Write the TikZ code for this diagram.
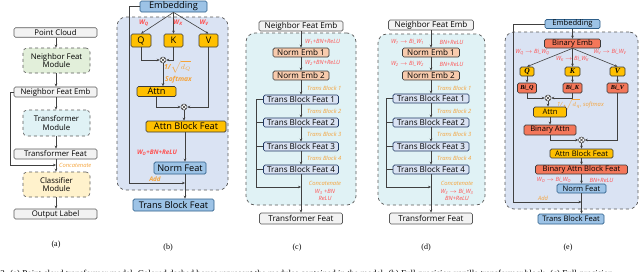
\documentclass[tikz,border=0pt]{standalone}
\usepackage{fontspec}
\setmainfont{Liberation Serif}
\setsansfont{Open Sans}
\usetikzlibrary{arrows.meta,calc}
\newcommand\fsz[2]{\fontsize{#1}{#2}\selectfont}
\definecolor{gfill}{HTML}{F2F2F2}
\definecolor{gdraw}{HTML}{595959}
\definecolor{bfill}{HTML}{9DC3E6}
\definecolor{bdraw}{HTML}{2E5F8A}
\definecolor{yfill}{HTML}{FFC000}
\definecolor{ydraw}{HTML}{3A3A3A}
\definecolor{pfill}{HTML}{F8CBAD}
\definecolor{lbfill}{HTML}{DAE3F3}
\definecolor{lbdraw}{HTML}{1F3864}
\definecolor{rfill}{HTML}{F4775A}
\definecolor{panelB}{HTML}{DAE3F3}
\definecolor{panelC}{HTML}{E0F2F5}
\definecolor{greenM}{HTML}{E2EFDA}
\definecolor{yelM}{HTML}{FFF2CC}
\definecolor{orangeT}{HTML}{F5A33A}
\definecolor{redT}{HTML}{FF5050}
\definecolor{lineC}{HTML}{404040}
\tikzset{
  box/.style={draw, rounded corners=1.5pt, line width=0.7pt, inner sep=0pt, align=center},
  gbox/.style={box, fill=gfill, draw=gdraw},
  bbox/.style={box, fill=bfill, draw=bdraw},
  ybox/.style={box, fill=yfill, draw=ydraw},
  pbox/.style={box, fill=pfill, draw=ydraw},
  lbbox/.style={box, fill=lbfill, draw=lbdraw},
  rbox/.style={box, fill=rfill, draw=ydraw},
  module/.style={draw=gdraw, dashed, rounded corners=4pt, line width=0.6pt, inner sep=0pt, align=center},
  panel/.style={draw=gdraw, dashed, line width=0.7pt, rounded corners=9pt, inner sep=0pt},
  conn/.style={draw=lineC, line width=0.6pt},
  arr/.style={conn, -{Stealth[length=3pt,width=2.6pt]}},
  olab/.style={font=\sffamily\itshape\fsz{5.8}{7}, text=orangeT, inner sep=0pt},
  rlab/.style={font=\sffamily\itshape\fsz{5.8}{7}, text=redT, inner sep=0pt},
  mlab/.style={font=\sffamily\itshape\fsz{5.8}{7.8}, inner sep=0pt, align=center},
  otim/.style={circle, draw=lineC, fill=white, line width=0.5pt, minimum size=6pt, inner sep=0pt,
    path picture={\draw[lineC, line width=0.4pt] (path picture bounding box.north west) -- (path picture bounding box.south east) (path picture bounding box.north east) -- (path picture bounding box.south west);}},
  fa/.style={font=\sffamily\fsz{7.8}{8.7}},
  fb/.style={font=\sffamily\fsz{9.2}{10}},
  fc/.style={font=\sffamily\fsz{8.1}{9}},
  fe/.style={font=\sffamily\fsz{7.6}{8.5}},
  fq/.style={font=\bfseries\itshape\fsz{7.6}{8.5}},
  fbi/.style={font=\bfseries\itshape\fsz{6.2}{7}},
  capt/.style={font=\fsz{8}{9}, inner sep=0pt}
}
\begin{document}
\begin{tikzpicture}[x=1pt,y=-1pt]
\useasboundingbox (0,0) rectangle (640,271);
% ---------------- (a)
\node[gbox, fa, minimum width=83, minimum height=9.5] (pc) at (55.5,32.5) {Point Cloud};
\node[module, fill=greenM, fa, minimum width=67, minimum height=25] (nfm) at (56.5,60.5) {Neighbor Feat\\Module};
\node[gbox, fa, minimum width=83, minimum height=10] (nfe) at (55.5,92) {Neighbor Feat Emb};
\node[module, fill=panelC, fa, minimum width=67, minimum height=26] (tm) at (56.5,123) {Transformer\\Module};
\node[gbox, fa, minimum width=83, minimum height=10] (tfa) at (55.5,154) {Transformer Feat};
\node[module, fill=yelM, fa, minimum width=67, minimum height=25] (cm) at (56.5,184.5) {Classifier\\Module};
\node[gbox, fa, minimum width=83, minimum height=10] (ol) at (55.5,214) {Output Label};
\coordinate (aL) at (10,165);
\coordinate (aM) at (56,165);
\draw[arr] (pc.south -| aM) -- (nfm.north -| aM);
\draw[arr] (nfm.south -| aM) -- (nfe.north -| aM);
\draw[arr] (nfe.south -| aM) -- (tm.north -| aM);
\draw[arr] (tm.south -| aM) -- (tfa.north -| aM);
\draw[arr] (tfa.south -| aM) -- (cm.north -| aM);
\draw[arr] (cm.south -| aM) -- (ol.north -| aM);
\draw[arr] (nfe.west) -| (aL) -- (aM);
\node[olab, anchor=west] (concA) at (59,165.5) {Concatenate};
\node[capt] (capa) at (56,245) {(a)};
% ---------------- (b)
\node[panel, fill=panelB, minimum width=111, minimum height=173] (pB) at (172.5,103.5) {};
\node[bbox, fb, minimum width=67, minimum height=11] (embB) at (173.5,6.5) {Embedding};
\node[ybox, fb, minimum width=20, minimum height=13] (qB) at (141,40.5) {Q};
\node[ybox, fb, minimum width=19, minimum height=13] (kB) at (173.5,40.5) {K};
\node[ybox, fb, minimum width=19, minimum height=13] (vB) at (208.5,40.5) {V};
\draw[arr] (embB.south) -- (qB.north);
\draw[arr] (embB.south) -- (kB.north);
\draw[arr] (embB.south) -- (vB.north);
\node[rlab, font=\sffamily\bfseries\itshape\fsz{6.5}{7}] (wqB) at (144,23) {W\textsubscript{Q}};
\node[rlab, font=\sffamily\bfseries\itshape\fsz{6.5}{7}] (wkB) at (178,23) {W\textsubscript{K}};
\node[rlab, font=\sffamily\bfseries\itshape\fsz{6.5}{7}] (wvB) at (204,23) {W\textsubscript{V}};
\node[otim] (o1B) at (163,60) {};
\draw[arr] (qB.south) |- (o1B.west);
\draw[arr] (kB.south) |- (o1B.east);
\node[ybox, fb, minimum width=39, minimum height=10] (attnB) at (156.5,91.5) {Attn};
\draw[arr] (o1B.south) -- (o1B.south |- attnB.north);
\node[olab, font=\sffamily\bfseries\itshape\fsz{7}{8}] (sqB) at (177.5,67) {1/$\sqrt{d_Q}$};
\node[olab, font=\sffamily\bfseries\itshape\fsz{6.8}{8}] (smB) at (178.5,80) {Softmax};
\node[otim] (o2B) at (184,107) {};
\draw[arr] (attnB.south) |- (o2B.west);
\draw[arr] (vB.south) |- (o2B.east);
\node[ybox, fb, minimum width=80, minimum height=11] (abfB) at (186,126.5) {Attn Block Feat};
\draw[arr] (o2B.south) -- (o2B.south |- abfB.north);
\node[bbox, fb, minimum width=52, minimum height=12] (nfB) at (180,168) {Norm Feat};
\coordinate (bAdd) at (185,183);
\coordinate (bL) at (129,183);
\draw[arr] (abfB.south -| bAdd) -- (nfB.north -| bAdd);
\node[rlab, font=\sffamily\bfseries\itshape\fsz{6.3}{7}] (woB) at (157,153) {W\textsubscript{O}+BN+ReLU};
\node[bbox, fb, minimum width=81, minimum height=12] (tbfB) at (173.5,205) {Trans Block Feat};
\draw[arr] (nfB.south -| bAdd) -- (tbfB.north -| bAdd);
\draw[arr] (embB.west) -| (bL) -- (bAdd);
\node[olab, font=\sffamily\bfseries\itshape\fsz{6.3}{7}] (addB) at (155,179.5) {Add};
\node[capt] (capb) at (168,248) {(b)};
% ---------------- (c)
\node[panel, fill=panelC, minimum width=110, minimum height=172] (pC) at (301,119) {};
\node[gbox, fc, minimum width=84, minimum height=10] (nfeC) at (301,26) {Neighbor Feat Emb};
\node[pbox, fc, minimum width=56, minimum height=9] (ne1C) at (301,52.5) {Norm Emb 1};
\node[pbox, fc, minimum width=56, minimum height=9] (ne2C) at (301,75.5) {Norm Emb 2};
\node[lbbox, fc, minimum width=75, minimum height=9] (t1C) at (301,99.5) {Trans Block Feat 1};
\node[lbbox, fc, minimum width=75, minimum height=9] (t2C) at (301,122.5) {Trans Block Feat 2};
\node[lbbox, fc, minimum width=75, minimum height=9] (t3C) at (301,146.5) {Trans Block Feat 3};
\node[lbbox, fc, minimum width=75, minimum height=9] (t4C) at (301,169.5) {Trans Block Feat 4};
\node[gbox, fc, minimum width=83, minimum height=11] (tfC) at (301,218.5) {Transformer Feat};
\draw[arr] (nfeC.south) -- (ne1C.north);
\draw[arr] (ne1C.south) -- (ne2C.north);
\draw[arr] (ne2C.south) -- (t1C.north);
\draw[arr] (t1C.south) -- (t2C.north);
\draw[arr] (t2C.south) -- (t3C.north);
\draw[arr] (t3C.south) -- (t4C.north);
\draw[arr] (t4C.south) -- (tfC.north);
\coordinate (cB) at (256,187);
\draw[conn] (t1C.west) -| (cB);
\draw[conn] (t2C.west) -- (t2C.west -| cB);
\draw[conn] (t3C.west) -- (t3C.west -| cB);
\draw[conn] (t4C.west) -- (t4C.west -| cB);
\draw[arr] (cB) -- (cB -| nfeC.south);
\node[rlab, anchor=west] (w1C) at (305,42) {W\textsubscript{1}+BN+ReLU};
\node[rlab, anchor=west] (w2C) at (305,63) {W\textsubscript{2}+BN+ReLU};
\node[olab, anchor=west] (b1C) at (307,88) {Trans Block 1};
\node[olab, anchor=west] (b2C) at (307,111) {Trans Block 2};
\node[olab, anchor=west] (b3C) at (307,134) {Trans Block 3};
\node[olab, anchor=west] (b4C) at (307,158) {Trans Block 4};
\node[mlab] (ccC) at (325,191) {{\color{orangeT}Concatenate}\\{\color{redT}W\textsubscript{3} +BN}\\{\color{redT}ReLU}};
\node[capt] (capc) at (297,248) {(c)};
% ---------------- (d)
\node[panel, fill=panelC, minimum width=107, minimum height=171] (pD) at (431.5,119.5) {};
\node[gbox, fc, minimum width=85, minimum height=10] (nfeD) at (431,25) {Neighbor Feat Emb};
\node[pbox, fc, minimum width=57, minimum height=9] (ne1D) at (431,52.5) {Norm Emb 1};
\node[pbox, fc, minimum width=57, minimum height=9] (ne2D) at (431,75.5) {Norm Emb 2};
\node[lbbox, fc, minimum width=76, minimum height=9] (t1D) at (431,98.5) {Trans Block Feat 1};
\node[lbbox, fc, minimum width=76, minimum height=9] (t2D) at (431,122.5) {Trans Block Feat 2};
\node[lbbox, fc, minimum width=76, minimum height=9] (t3D) at (431,146.5) {Trans Block Feat 3};
\node[lbbox, fc, minimum width=76, minimum height=9] (t4D) at (431,169.5) {Trans Block Feat 4};
\node[gbox, fc, minimum width=83, minimum height=11] (tfD) at (431,218.5) {Transformer Feat};
\draw[arr] (nfeD.south) -- (ne1D.north);
\draw[arr] (ne1D.south) -- (ne2D.north);
\draw[arr] (ne2D.south) -- (t1D.north);
\draw[arr] (t1D.south) -- (t2D.north);
\draw[arr] (t2D.south) -- (t3D.north);
\draw[arr] (t3D.south) -- (t4D.north);
\draw[arr] (t4D.south) -- (tfD.north);
\coordinate (dB) at (386,187);
\draw[conn] (t1D.west) -| (dB);
\draw[conn] (t2D.west) -- (t2D.west -| dB);
\draw[conn] (t3D.west) -- (t3D.west -| dB);
\draw[conn] (t4D.west) -- (t4D.west -| dB);
\draw[arr] (dB) -- (dB -| nfeD.south);
\node[rlab] (w1D) at (407.5,42) {W\textsubscript{1} $\rightarrow$ Bi\_W\textsubscript{1}};
\node[rlab] (bn1D) at (451.5,42) {BN+ReLU};
\node[rlab] (w2D) at (407.5,64) {W\textsubscript{2} $\rightarrow$ Bi\_W\textsubscript{2}};
\node[rlab] (bn2D) at (451.5,64) {BN+ReLU};
\node[olab, anchor=west] (b1D) at (437,88) {Trans Block 1};
\node[olab, anchor=west] (b2D) at (437,111) {Trans Block 2};
\node[olab, anchor=west] (b3D) at (437,134) {Trans Block 3};
\node[olab, anchor=west] (b4D) at (437,158) {Trans Block 4};
\node[mlab] (ccD) at (457,191) {{\color{orangeT}Concatenate}\\{\color{redT}W\textsubscript{3} $\rightarrow$ Bi\_W\textsubscript{3}}\\{\color{redT}BN+ReLU}};
\node[capt] (capd) at (426,248) {(d)};
% ---------------- (e)
\node[panel, fill=panelB, minimum width=133, minimum height=177] (pE) at (571.5,120.5) {};
\node[bbox, fe, minimum width=55, minimum height=9] (embE) at (572.5,24) {Embedding};
\node[rbox, fe, minimum width=56, minimum height=9] (bembE) at (572.5,43.5) {Binary Emb};
\node[ybox, fq, minimum width=14, minimum height=9] (qE) at (527,71.5) {Q};
\node[ybox, fq, minimum width=15, minimum height=9] (kE) at (572.5,71.5) {K};
\node[ybox, fq, minimum width=15, minimum height=9] (vE) at (617.5,71.5) {V};
\node[rbox, fbi, minimum width=19, minimum height=10] (biqE) at (527,88) {Bi\_Q};
\node[rbox, fbi, minimum width=19, minimum height=10] (bikE) at (572.5,88) {Bi\_K};
\node[rbox, fbi, minimum width=21, minimum height=10] (bivE) at (617.5,88) {Bi\_V};
\draw[arr] (embE.south) -- (bembE.north);
\draw[arr] (bembE.south) -- (qE.north);
\draw[arr] (bembE.south) -- (kE.north);
\draw[arr] (bembE.south) -- (vE.north);
\draw[arr] (qE.south) -- (biqE.north);
\draw[arr] (kE.south) -- (bikE.north);
\draw[arr] (vE.south) -- (bivE.north);
\node[rlab] (wqE) at (532.5,52) {W\textsubscript{Q} $\rightarrow$ Bi\_W\textsubscript{Q}};
\node[rlab] (wkE) at (572.5,59) {W\textsubscript{K} $\rightarrow$ Bi\_W\textsubscript{K}};
\node[rlab] (wvE) at (610,52) {W\textsubscript{V} $\rightarrow$ Bi\_W\textsubscript{V}};
\node[otim] (o1E) at (548,98) {};
\draw[arr] (biqE.south) |- (o1E.west);
\draw[arr] (bikE.south) |- (o1E.east);
\node[olab] (sqE) at (580.5,104.5) {1/$\sqrt{d_q}$, softmax};
\node[ybox, fe, minimum width=33, minimum height=10] (attnE) at (550,112) {Attn};
\draw[arr] (o1E.south) -- (o1E.south |- attnE.north);
\node[rbox, fe, minimum width=52, minimum height=10] (battnE) at (550,130) {Binary Attn};
\draw[arr] (attnE.south) -- (battnE.north);
\node[otim] (o2E) at (581.5,140) {};
\draw[arr] (battnE.south) |- (o2E.west);
\draw[arr] (bivE.south) |- (o2E.east);
\node[ybox, fe, minimum width=63, minimum height=9] (abfE) at (581.5,153.5) {Attn Block Feat};
\draw[arr] (o2E.south) -- (abfE.north);
\node[rbox, fe, minimum width=92, minimum height=9] (babfE) at (581.5,169.5) {Binary Attn Block Feat};
\draw[arr] (abfE.south) -- (babfE.north);
\node[bbox, fe, minimum width=49, minimum height=9] (nfE) at (581.5,188.5) {Norm Feat};
\draw[arr] (babfE.south) -- (nfE.north);
\node[rlab] (woE) at (554,180) {W\textsubscript{O} $\rightarrow$ Bi\_W\textsubscript{O}};
\node[rlab] (bnE) at (601.5,180) {BN+ReLU};
\node[bbox, fe, minimum width=66, minimum height=10] (tbfE) at (571,219) {Trans Block Feat};
\draw[arr] (nfE.south) -- (nfE.south |- tbfE.north);
\coordinate (eL) at (513,202);
\coordinate (eAdd) at (581.5,202);
\draw[arr] (embE.west) -| (eL) -- (eAdd);
\node[olab] (addE) at (543,198.5) {Add};
\node[capt] (cape) at (568,248) {(e)};
% ---------------- cut-off caption line
\node[anchor=base west, inner sep=0pt, font=\fsz{9}{10}] (figcap) at (-17,276) {Fig. 2. (a) Point cloud transformer model. Colored dashed boxes represent the modules contained in the model. (b) Full-precision vanilla transformer block. (c) Full-precision};
\end{tikzpicture}
\end{document}
